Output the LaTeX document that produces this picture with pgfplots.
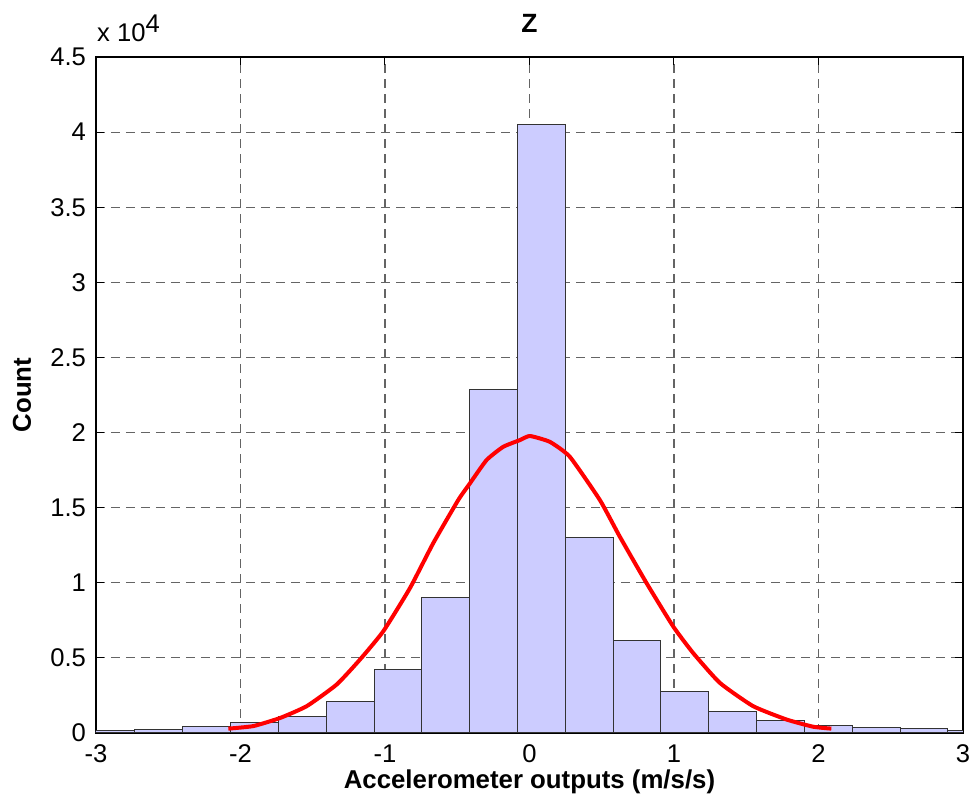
\documentclass[border=0pt]{standalone}
\usepackage{fontspec}
\setmainfont{Liberation Sans}
\usepackage{pgfplots}
\pgfplotsset{compat=1.18}
\definecolor{barfill}{RGB}{204,204,255}
\definecolor{gridc}{RGB}{100,100,100}
\begin{document}
\begin{tikzpicture}[font=\fontsize{12.8}{15}\selectfont]
\useasboundingbox (-48pt,-34.5pt) rectangle (439pt,366.5pt);
\begin{axis}[
  at={(0,0)}, anchor=south west,
  scale only axis, width=433.5pt, height=338pt,
  xmin=-3, xmax=3, ymin=0, ymax=45000,
  xtick={-3,-2,-1,0,1,2,3},
  ytick={0,5000,10000,15000,20000,25000,30000,35000,40000,45000},
  yticklabels={0,0.5,1,1.5,2,2.5,3,3.5,4,4.5},
  scaled y ticks=false,
  grid=major,
  major grid style={color=gridc, line width=0.55pt, dash pattern=on 4.5pt off 3pt},
  tick align=inside, tick pos=both, major tick length=4pt,
  tick style={black, line width=0.5pt},
  axis line style={black, line width=0.6pt},
  /pgf/number format/assume math mode=true,
  ticklabel style={font=\fontsize{12.8}{15}\selectfont},
  xticklabel style={yshift=-2.5pt},
  yticklabel style={xshift=-1.5pt},
  xlabel={Accelerometer outputs (m/s/s)},
  ylabel={Count},
  title={Z},
  label style={font=\bfseries\fontsize{12.9}{15}\selectfont},
  title style={font=\bfseries\fontsize{13.2}{15}\selectfont, at={(axis description cs:0.5,1)}, anchor=base, yshift=6pt},
  xlabel style={at={(axis description cs:0.5,-0.0725)}, anchor=center},
  ylabel style={at={(axis description cs:-0.0853,0.5)}, anchor=center},
]
\addplot[ybar interval, fill=barfill, draw=black!80, line width=0.5pt] coordinates {
(-3.062,150) (-2.731,260) (-2.400,420) (-2.069,700) (-1.738,1080)
(-1.407,2120) (-1.076,4220) (-0.745,9050) (-0.414,22860) (-0.083,40480)
(0.248,13010) (0.579,6170) (0.910,2770) (1.241,1450) (1.572,810)
(1.903,520) (2.234,390) (2.565,290) (2.896,170) (3.227,170)
};
\addplot[color=red, line width=2pt, line join=round, smooth, tension=0.3] coordinates {
(-2.084,290) (-1.911,460) (-1.726,1000) (-1.541,1790) (-1.334,3230)
(-1.173,4890) (-1.012,6770) (-0.827,9650) (-0.666,12640) (-0.493,15510)
(-0.412,16620) (-0.297,18170) (-0.182,19050) (-0.066,19500) (0.003,19770)
(0.141,19380) (0.279,18390) (0.487,15510) (0.625,13070) (0.810,9980)
(0.994,7100) (1.132,5330) (1.317,3340) (1.547,1790) (1.778,900)
(1.962,420) (2.089,290)
};
\end{axis}
\node[anchor=base west, inner sep=0pt] at (0.4pt,345.5pt) {x 10\raisebox{4.5pt}{4}};
\end{tikzpicture}
\end{document}
